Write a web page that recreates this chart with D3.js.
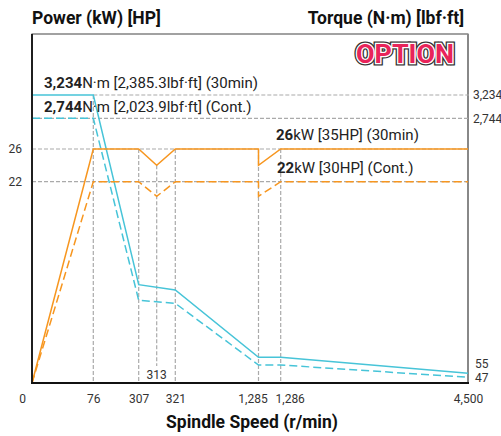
<!DOCTYPE html>
<html>
<head>
<meta charset="utf-8">
<script src="https://cdn.jsdelivr.net/npm/d3@7"></script>
<style>
  body { margin: 0; background: #fff; }
  text { font-family: Roboto, "DejaVu Sans", sans-serif; }
</style>
</head>
<body>
<div id="chart"></div>
<script>
// chart data
var speedTicks = [0, 76, 307, 313, 321, 1285, 1286, 4500];
var powerTicks = [22, 26];
var torqueTicks = [47, 55, 2744, 3234];

// power (kW) vs spindle speed
var power30Speed = [0, 76, 307, 313, 321, 1285, 1285, 1286, 4500];
var power30Value = [0, 26, 26, 24, 26, 26, 24, 26, 26];
var powerContSpeed = [0, 76, 307, 313, 321, 1285, 1285, 1286, 4500];
var powerContValue = [0, 22, 22, 20.4, 22, 22, 20.4, 22, 22];

// torque (N·m) vs spindle speed
var torque30Speed = [0, 76, 307, 321, 1285, 1286, 4500];
var torque30Value = [3234, 3234, 809, 773, 193, 193, 55];
var torqueContSpeed = [0, 76, 307, 321, 1285, 1286, 4500];
var torqueContValue = [2744, 2744, 684, 654, 163, 163, 47];

var svgWidth = 501;
var svgHeight = 436;

var plot = { left: 32, top: 34, right: 468, bottom: 383 };

var orange = "#f7961f";
var cyan = "#47c4d8";
var grid = "#aaaaaa";

var svg = d3.select("#chart")
  .append("svg")
  .attr("width", svgWidth)
  .attr("height", svgHeight);

// the speed axis is schematic: piecewise linear between the key speeds
var xScale = d3.scaleLinear()
  .domain(speedTicks)
  .range([32, 93.3, 138.7, 156.7, 175.3, 258.5, 280.7, 468]);

var yPower = d3.scaleLinear()
  .domain([0, 22, 26])
  .range([plot.bottom, 181.7, 149]);

var yTorque = d3.scaleLinear()
  .domain([0, 47, 55, 163, 193, 654, 684, 773, 809, 2744, 3234])
  .range([plot.bottom, 377.3, 373.3, 365, 357.3, 303.3, 300.3, 290, 284.7, 118.3, 95]);

// frame
svg.append("rect")
  .attr("x", plot.left)
  .attr("y", plot.top)
  .attr("width", plot.right - plot.left)
  .attr("height", plot.bottom - plot.top)
  .attr("fill", "none")
  .attr("stroke", "#444")
  .attr("stroke-width", 1);
svg.append("line")
  .attr("x1", plot.right).attr("x2", plot.right)
  .attr("y1", plot.top).attr("y2", plot.bottom)
  .attr("stroke", "#888").attr("stroke-width", 2);

// grid lines
var gridGroup = svg.append("g")
  .attr("stroke", grid)
  .attr("stroke-width", 1.2)
  .attr("stroke-dasharray", "4,2")
  .attr("fill", "none");

gridGroup.selectAll(".hp")
  .data(powerTicks)
  .enter()
  .append("line")
  .attr("x1", plot.left)
  .attr("x2", plot.right)
  .attr("y1", d => yPower(d))
  .attr("y2", d => yPower(d));

gridGroup.selectAll(".ht")
  .data([2744, 3234])
  .enter()
  .append("line")
  .attr("x1", d => d === 3234 ? xScale(76) : plot.left)
  .attr("x2", plot.right + 1)
  .attr("y1", d => yTorque(d))
  .attr("y2", d => yTorque(d));

var vGrid = [76, 307, 313, 321, 1285, 1286];
gridGroup.selectAll(".v")
  .data(vGrid)
  .enter()
  .append("line")
  .attr("x1", d => xScale(d))
  .attr("x2", d => xScale(d))
  .attr("y1", function(d) {
    if (d === 76) return yTorque(3234);
    if (d === 313) return yPower(24);
    return yPower(26);
  })
  .attr("y2", d => d === 313 ? 366 : plot.bottom);

// series
function makeLine(xs, ys, yScale) {
  var pts = xs.map((s, i) => [xScale(s), yScale(ys[i])]);
  return d3.line()(pts);
}

var series = [
  { xs: torque30Speed, ys: torque30Value, y: yTorque, color: cyan, dash: null },
  { xs: torqueContSpeed, ys: torqueContValue, y: yTorque, color: cyan, dash: "8,4" },
  { xs: power30Speed, ys: power30Value, y: yPower, color: orange, dash: null },
  { xs: powerContSpeed, ys: powerContValue, y: yPower, color: orange, dash: "8,4" }
];

svg.append("g").selectAll("path")
  .data(series)
  .enter()
  .append("path")
  .attr("d", d => makeLine(d.xs, d.ys, d.y))
  .attr("fill", "none")
  .attr("stroke", d => d.color)
  .attr("stroke-width", 1.5)
  .attr("stroke-dasharray", d => d.dash);

// axis lines
svg.append("line")
  .attr("x1", plot.left).attr("x2", plot.left)
  .attr("y1", plot.top).attr("y2", plot.bottom)
  .attr("stroke", "#111").attr("stroke-width", 1.8);
svg.append("line")
  .attr("x1", plot.left - 1).attr("x2", plot.right + 1)
  .attr("y1", plot.bottom).attr("y2", plot.bottom)
  .attr("stroke", "#111").attr("stroke-width", 1.8);

// x axis labels
var xAxis = d3.axisBottom(xScale)
  .tickValues(speedTicks.filter(d => d !== 313))
  .tickFormat(d3.format(","))
  .tickSize(0)
  .tickPadding(11);

var xAxisG = svg.append("g")
  .attr("transform", `translate(0, ${plot.bottom})`)
  .call(xAxis);
xAxisG.select(".domain").remove();
xAxisG.selectAll("text")
  .attr("font-size", 12)
  .attr("fill", "#333")
  .attr("font-family", "Roboto, sans-serif")
  .attr("dx", function(d) {
    if (d === 0) return -10;
    if (d === 1285) return -6;
    if (d === 1286) return 9;
    return 0;
  });

svg.append("text")
  .attr("x", xScale(313))
  .attr("y", 379)
  .attr("text-anchor", "middle")
  .attr("font-size", 12)
  .attr("fill", "#333")
  .text("313");

// left power axis labels
var leftAxisG = svg.append("g")
  .attr("transform", `translate(${plot.left}, 0)`)
  .call(d3.axisLeft(yPower).tickValues(powerTicks).tickSize(0).tickPadding(10));
leftAxisG.select(".domain").remove();
leftAxisG.selectAll("text")
  .attr("font-size", 12)
  .attr("fill", "#333")
  .attr("font-family", "Roboto, sans-serif");

// right torque axis labels
var rightAxisG = svg.append("g")
  .attr("transform", `translate(${plot.right}, 0)`)
  .call(d3.axisRight(yTorque).tickValues(torqueTicks).tickFormat(d3.format(",")).tickSize(0).tickPadding(5));
rightAxisG.select(".domain").remove();
rightAxisG.selectAll("text")
  .attr("font-size", 12)
  .attr("fill", "#333")
  .attr("font-family", "Roboto, sans-serif")
  .attr("dx", d => d < 100 ? 2 : 0)
  .attr("dy", d => d === 55 ? "-0.45em" : "0.32em");

// titles
svg.append("text")
  .attr("x", plot.left)
  .attr("y", 24)
  .attr("font-size", 17.5)
  .attr("font-weight", "bold")
  .attr("fill", "#111")
  .text("Power (kW) [HP]");

svg.append("text")
  .attr("x", 464)
  .attr("y", 24)
  .attr("text-anchor", "end")
  .attr("font-size", 17.5)
  .attr("font-weight", "bold")
  .attr("fill", "#111")
  .text("Torque (N·m) [lbf·ft]");

svg.append("text")
  .attr("x", 252)
  .attr("y", 428)
  .attr("text-anchor", "middle")
  .attr("font-size", 17.5)
  .attr("font-weight", "bold")
  .attr("fill", "#111")
  .text("Spindle Speed (r/min)");

// annotations
var notes = [
  { x: xScale(0) + 12, y: yTorque(3234) - 7, bold: "3,234", rest: "N·m [2,385.3lbf·ft] (30min)" },
  { x: xScale(0) + 12, y: yTorque(2744) - 6, bold: "2,744", rest: "N·m [2,023.9lbf·ft] (Cont.)" },
  { x: 276, y: yPower(26) - 9, bold: "26", rest: "kW [35HP] (30min)" },
  { x: 277, y: yPower(22) - 9, bold: "22", rest: "kW [30HP] (Cont.)" }
];

var noteText = svg.append("g").selectAll("text")
  .data(notes)
  .enter()
  .append("text")
  .attr("x", d => d.x)
  .attr("y", d => d.y)
  .attr("font-size", 15)
  .attr("fill", "#222");
noteText.append("tspan")
  .attr("font-weight", "bold")
  .text(d => d.bold);
noteText.append("tspan")
  .text(d => d.rest);

// OPTION badge
var badge = svg.append("g")
  .attr("font-family", "'DejaVu Sans', sans-serif")
  .attr("font-weight", "bold")
  .attr("font-size", 25);
[["#333", 5], ["#fff", 2.5]].forEach(function(s) {
  badge.append("text")
    .attr("x", 356).attr("y", 63)
    .attr("textLength", 98).attr("lengthAdjust", "spacingAndGlyphs")
    .attr("fill", "none")
    .attr("stroke", s[0])
    .attr("stroke-width", s[1])
    .attr("stroke-linejoin", "miter")
    .text("OPTION");
});
badge.append("text")
  .attr("x", 356).attr("y", 63)
  .attr("textLength", 98).attr("lengthAdjust", "spacingAndGlyphs")
  .attr("fill", "#e8245a")
  .text("OPTION");
</script>
</body>
</html>
